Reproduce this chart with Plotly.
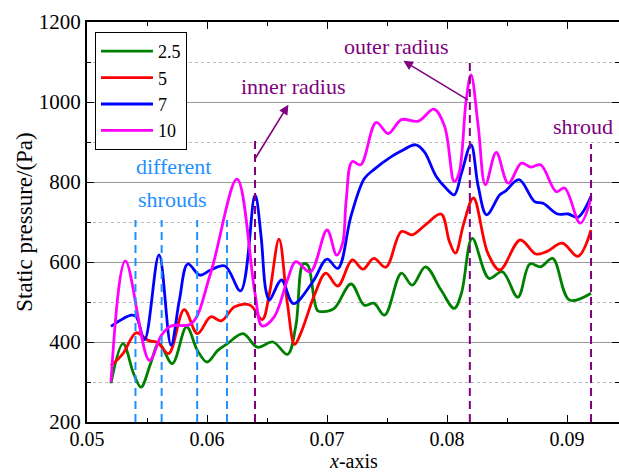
import plotly.graph_objects as go

# ---- data ----
x_g = [0.0520, 0.0530, 0.0539, 0.0545, 0.0553, 0.0560, 0.0571, 0.0583, 0.0592, 0.0600,
       0.0609, 0.0617, 0.0630, 0.0642, 0.0655, 0.0667, 0.0674, 0.0680, 0.0684, 0.0692,
       0.0697, 0.0706, 0.0720, 0.0731, 0.0739, 0.0748, 0.0762, 0.0771, 0.0782, 0.0795,
       0.0806, 0.0812, 0.0821, 0.0835, 0.0846, 0.0859, 0.0869, 0.0878, 0.0888, 0.0902, 0.0920]
y_g = [297, 396, 320, 287, 346, 397, 346, 438, 379, 350,
       379, 396, 421, 387, 400, 369, 440, 595, 592, 479,
       476, 484, 545, 492, 497, 467, 572, 542, 588, 530,
       484, 522, 659, 559, 576, 512, 595, 588, 609, 505, 522]

x_r = [0.0520, 0.0530, 0.0541, 0.0551, 0.0559, 0.0568, 0.0581, 0.0592, 0.0603, 0.0612,
       0.0623, 0.0636, 0.0646, 0.0652, 0.0660, 0.0667, 0.0673, 0.0678, 0.0690, 0.0699,
       0.0709, 0.0721, 0.0730, 0.0739, 0.0749, 0.0762, 0.0771, 0.0782, 0.0795, 0.0802,
       0.0807, 0.0814, 0.0822, 0.0834, 0.0844, 0.0861, 0.0874, 0.0883, 0.0896, 0.0909, 0.0920]
y_r = [341, 371, 423, 404, 398, 371, 481, 421, 463, 453,
       488, 492, 456, 521, 657, 496, 394, 421, 521, 572,
       540, 605, 582, 609, 587, 676, 668, 693, 720, 651,
       622, 697, 760, 622, 580, 655, 620, 626, 647, 614, 680]

x_b = [0.0520, 0.0537, 0.0541, 0.0548, 0.0560, 0.0570, 0.0577, 0.0584, 0.0594, 0.0603,
       0.0615, 0.0628, 0.0640, 0.0645, 0.0649, 0.0652, 0.0662, 0.0672, 0.0688, 0.0700,
       0.0709, 0.0720, 0.0731, 0.0739, 0.0753, 0.0761, 0.0774, 0.0781, 0.0791, 0.0799,
       0.0806, 0.0812, 0.0820, 0.0826, 0.0833, 0.0844, 0.0849, 0.0860, 0.0873, 0.0880,
       0.0892, 0.0901, 0.0909, 0.0920]
y_b = [439, 467, 463, 406, 618, 392, 505, 595, 567, 580,
       590, 528, 767, 666, 530, 505, 555, 496, 550, 607,
       584, 715, 808, 831, 862, 876, 893, 876, 814, 785,
       768, 822, 893, 789, 718, 768, 778, 806, 751, 747,
       720, 720, 712, 764]

x_m = [0.0520, 0.0532, 0.0552, 0.0562, 0.0570, 0.0587, 0.0603, 0.0625, 0.0640, 0.0646,
       0.0656, 0.0667, 0.0674, 0.0686, 0.0700, 0.0708, 0.0713, 0.0716, 0.0721, 0.0728,
       0.0741, 0.0751, 0.0762, 0.0776, 0.0789, 0.0798, 0.0806, 0.0810, 0.0816, 0.0820,
       0.0826, 0.0832, 0.0841, 0.0851, 0.0862, 0.0870, 0.0878, 0.0891, 0.0898, 0.0911, 0.0920]
y_m = [300, 603, 354, 417, 440, 446, 572, 807, 521, 440,
       463, 555, 601, 575, 680, 617, 647, 755, 851, 843,
       949, 921, 956, 952, 982, 939, 801, 822, 1006, 1068,
       939, 793, 874, 797, 847, 837, 843, 776, 785, 697, 760]

series_names = ["2.5", "5", "7", "10"]
series_colors = ["#008000", "#FF0000", "#0000FF", "#FF00FF"]

shroud_x = [0.05404, 0.05622, 0.05918, 0.06167]
shroud_top = 705
radius_x = [0.0640, 0.0819, 0.0920]
radius_top = [913, 1102, 895]

x_ticks = [0.05, 0.06, 0.07, 0.08, 0.09]
y_ticks = [200, 400, 600, 800, 1000, 1200]

FONT = "Liberation Serif"
PURPLE = "#800080"
DBLUE = "#1E90FF"

fig = go.Figure()
for xs, ys, name, col in zip([x_g, x_r, x_b, x_m], [y_g, y_r, y_b, y_m],
                             series_names, series_colors):
    fig.add_trace(go.Scatter(x=xs, y=ys, name=name, mode="lines",
                             line=dict(color=col, width=2.8, shape="spline", smoothing=1.0)))

for xv in shroud_x:
    fig.add_shape(type="line", x0=xv, x1=xv, y0=200, y1=shroud_top, xref="x", yref="y",
                  line=dict(color=DBLUE, width=2, dash="8px,5px"))
for xv, top in zip(radius_x, radius_top):
    fig.add_shape(type="line", x0=xv, x1=xv, y0=200, y1=top, xref="x", yref="y",
                  line=dict(color=PURPLE, width=2, dash="8px,5px"))

ann_font = dict(family=FONT, size=22)
fig.add_annotation(x=0.05719, y=838, text="different", showarrow=False,
                   font=dict(ann_font, color=DBLUE))
fig.add_annotation(x=0.05710, y=757, text="shrouds", showarrow=False,
                   font=dict(ann_font, color=DBLUE))
fig.add_annotation(x=0.06719, y=1039, text="inner radius", showarrow=False,
                   font=dict(ann_font, color=PURPLE))
fig.add_annotation(x=0.07573, y=1138, text="outer radius", showarrow=False,
                   font=dict(ann_font, color=PURPLE))
fig.add_annotation(x=0.09136, y=938, text="shroud", showarrow=False,
                   font=dict(ann_font, color=PURPLE))
# arrows
fig.add_annotation(x=0.06678, y=993, ax=0.06394, ay=855, xref="x", yref="y",
                   axref="x", ayref="y", text="", showarrow=True, arrowhead=2,
                   arrowsize=1.2, arrowwidth=1.6, arrowcolor=PURPLE)
fig.add_annotation(x=0.07636, y=1103, ax=0.08186, ay=1003, xref="x", yref="y",
                   axref="x", ayref="y", text="", showarrow=True, arrowhead=2,
                   arrowsize=1.2, arrowwidth=1.6, arrowcolor=PURPLE)
# x-axis title placed at the bottom edge
fig.add_annotation(x=0.5, y=-0.1275, xref="paper", yref="paper", xanchor="center",
                   yanchor="bottom", text="<i>x</i>-axis", showarrow=False,
                   borderpad=0, font=dict(family=FONT, size=20, color="black"))

fig.update_layout(
    width=619, height=473,
    margin=dict(l=87, r=0, t=22, b=51, autoexpand=False),
    plot_bgcolor="white", paper_bgcolor="white",
    font=dict(family=FONT, size=21, color="black"),
    showlegend=True,
    legend=dict(x=0.015, y=0.975, xanchor="left", yanchor="top",
                bgcolor="white", bordercolor="black", borderwidth=1,
                font=dict(family=FONT, size=18), itemwidth=52,
                tracegroupgap=0),
)
fig.update_xaxes(
    range=[0.05, 0.09433], tickvals=x_ticks, tickformat=".2f", automargin=False,
    tickfont=dict(size=20), ticklabelstandoff=-2,
    ticks="inside", ticklen=7, tickwidth=1.3, tickcolor="black",
    minor=dict(dtick=0.005, tick0=0.05, ticks="inside", ticklen=4, tickcolor="black", showgrid=False),
    showline=True, linecolor="black", linewidth=2, mirror="allticks",
    showgrid=False, zeroline=False,
)
fig.update_yaxes(
    range=[200, 1200], tickvals=y_ticks, automargin=False,
    ticks="inside", ticklen=7, tickwidth=1.3, tickcolor="black",
    minor=dict(dtick=100, tick0=200, ticks="inside", ticklen=4, tickcolor="black",
               showgrid=True, gridcolor="#BBBBBB", griddash="dot", gridwidth=1),
    showline=True, linecolor="black", linewidth=2, mirror="allticks",
    showgrid=True, gridcolor="#999999", gridwidth=1, zeroline=False,
    title=dict(text="Static pressure/(Pa)", font=dict(size=23), standoff=0),
)

fig.write_html("out.html", config={"displayModeBar": False},
               post_script="document.body.style.margin='0px';")
